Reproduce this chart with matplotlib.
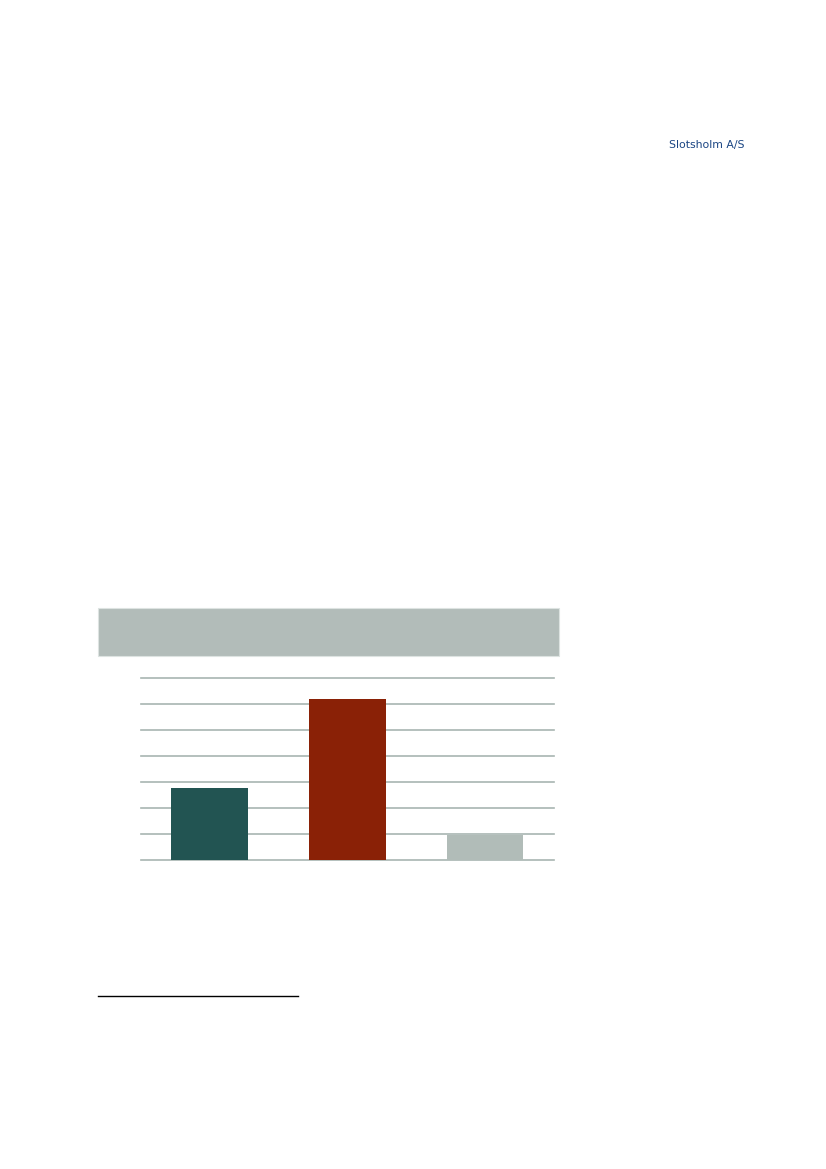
import matplotlib.pyplot as plt
from matplotlib.patches import Rectangle
from matplotlib.lines import Line2D

W, H = 826, 1169

categories = ['A', 'B', 'C']
values = [2.78, 6.2, 0.96]
bar_colors = ['#225452', '#8a2106', '#b1bcb8']
y_ticks = [0, 1, 2, 3, 4, 5, 6, 7]


def px(x0, y0, x1, y1):
    # pixel box (top-left origin) -> figure fraction [left, bottom, width, height]
    return [x0 / W, (H - y1) / H, (x1 - x0) / W, (y1 - y0) / H]


fig = plt.figure(figsize=(W / 100, H / 100), dpi=100)
fig.patch.set_facecolor('white')

# firmanavn oppe til hoejre
fig.text(669 / W, 1 - 145 / H, 'Slotsholm A/S', color='#1a4583', fontsize=7.8,
         family=['Liberation Sans Narrow', 'DejaVu Sans'], va='center', ha='left')

# graa overskriftsboks over diagrammet
l, b, w, h = px(98.3, 608.3, 559.3, 655.7)
fig.patches.append(Rectangle((l, b), w, h, transform=fig.transFigure,
                             facecolor='#b2bcb9', edgecolor='#dde3e1', linewidth=0.8))

# selve soejlediagrammet
ax = fig.add_axes(px(140.7, 678.3, 553.7, 860.3))
ax.bar(range(len(categories)), values, width=0.557, color=bar_colors, zorder=3)
ax.set_xlim(-0.5, len(categories) - 0.5)
ax.set_ylim(0, 7)
ax.set_yticks(y_ticks)
ax.yaxis.grid(True, color='#a8b5b1', linewidth=1.2)
for gl in ax.get_ygridlines():
    gl.set_clip_on(False)
ax.set_axisbelow(True)
ax.set_xticks([])
ax.tick_params(left=False, labelleft=False)
for s in ax.spines.values():
    s.set_visible(False)
ax.set_facecolor('none')

# fodnotelinje
fig.lines.append(Line2D([98 / W, 298 / W], [1 - 996 / H, 1 - 996 / H],
                        transform=fig.transFigure, color='black', linewidth=1.0))

plt.savefig('out.png', dpi=100)
plt.close()
